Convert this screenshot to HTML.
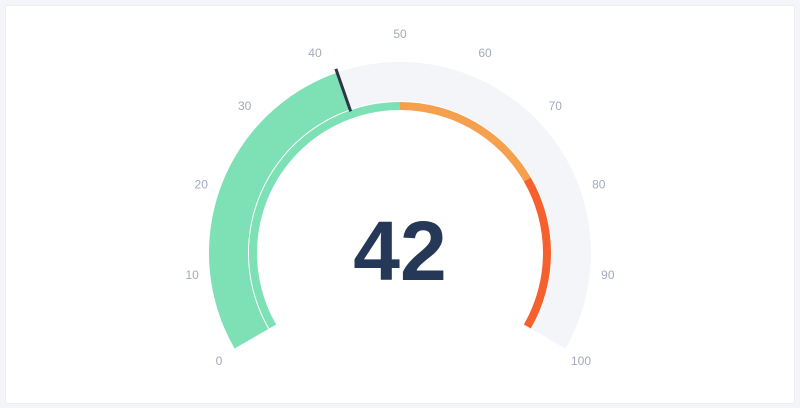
<!DOCTYPE html>
<html><head><meta charset="utf-8"><style>
html,body{margin:0;padding:0;background:#f4f5f8;}
#card{position:absolute;left:5px;top:5px;width:788px;height:397px;background:#fff;border:1px solid #eceef2;border-radius:3px;}
svg{position:absolute;left:0;top:0;}
</style></head><body>
<div id="card"></div>
<svg id="g" width="800" height="408"></svg>
<script>
const gaugeValue = [42];
const tickLabels = [0,10,20,30,40,50,60,70,80,90,100];
const zoneStarts = [0,50,75];
const zoneEnds = [50,75,100];
const zoneColors = ['#7ee0b5','#f6a04d','#f5602e'];
const minV=0,maxV=100;
const cx=400,cy=253,R=191,Rb=152,r1=143,r2=151;
const svg=document.getElementById('g');
const NS='http://www.w3.org/2000/svg';
function ang(v){return (-120+240*(v-minV)/(maxV-minV))*Math.PI/180;}
function pt(v,r){const a=ang(v);return [cx+r*Math.sin(a),cy-r*Math.cos(a)];}
function arc(v0,v1,ri,ro){
  const large=(ang(v1)-ang(v0))>Math.PI?1:0;
  const a=pt(v0,ro),b=pt(v1,ro),c=pt(v1,ri),d=pt(v0,ri);
  return `M${a[0]},${a[1]}A${ro},${ro} 0 ${large} 1 ${b[0]},${b[1]}L${c[0]},${c[1]}A${ri},${ri} 0 ${large} 0 ${d[0]},${d[1]}Z`;
}
function add(tag,attrs,name){const e=document.createElementNS(NS,tag);for(const k in attrs)e.setAttribute(k,attrs[k]);


svg.appendChild(e);return e;}
add('path',{d:arc(minV,maxV,Rb,R),fill:'#f4f5f9'},'gauge-track');
add('path',{d:arc(minV,gaugeValue[0],Rb,R),fill:'#7ee0b5'},'value-band');
add('path',{d:arc(minV,gaugeValue[0],r2,Rb),fill:'#7ee0b5'},'value-band-gap');
add('path',{d:arc(minV,gaugeValue[0],r2-0.2,r2+1),fill:'#ffffff'},'value-separator');
for(let i=0;i<zoneStarts.length;i++){
  add('path',{d:arc(zoneStarts[i],zoneEnds[i],r1,r2),fill:zoneColors[i]},'zone-band-'+i);
}
const n0=pt(gaugeValue[0],r1+7),n1=pt(gaugeValue[0],R+4);
add('line',{x1:n0[0],y1:n0[1],x2:n1[0],y2:n1[1],stroke:'#2d3748','stroke-width':3},'needle');
tickLabels.forEach(t=>{const a=ang(t);const px=cx+209*Math.sin(a),py=cy-218*Math.cos(a);
  const e=add('text',{x:px,y:py+3,'text-anchor':'middle','font-family':'Liberation Sans, sans-serif','font-size':12,fill:'#a3aabb'},'tick-label-'+t);
  e.textContent=t;});
const v=add('text',{x:cx,y:280,'text-anchor':'middle','font-family':'Liberation Sans, sans-serif','font-size':84,'font-weight':'bold',fill:'#253858'},'value-label');
v.textContent=gaugeValue[0];
</script>
</body></html>
